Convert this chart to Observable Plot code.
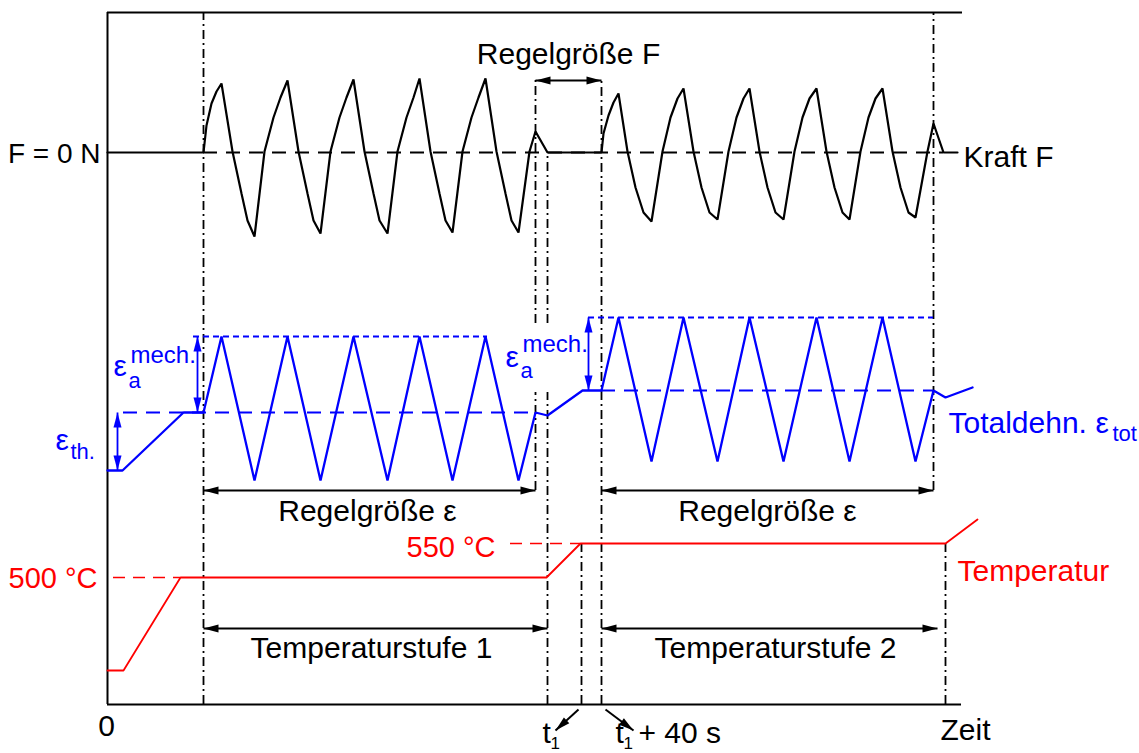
<!DOCTYPE html>
<html>
<head>
<meta charset="utf-8">
<script src="https://cdn.jsdelivr.net/npm/d3@7"></script>
<script src="https://cdn.jsdelivr.net/npm/@observablehq/plot@0.6"></script>
<style>
  html, body { margin: 0; padding: 0; background: #fff; }
  #chart { width: 1139px; height: 753px; }
</style>
</head>
<body>
<div id="chart"></div>
<script>
// ---- Data (t = Zeit, v = schematic level, both) ----
// Kraft F (black)
const force = [
  [0,552],[96,552],[99,579],[104,601],[109,613],[114,621],
  [125,553],[134,511],[140,484],[147,468],
  [157,553],[166,587],[173,607],[180,624],
  [191,553],[200,511],[206,484],[213,471],
  [223,553],[232,587],[239,607],[246,625],
  [257,553],[266,511],[272,484],[280,471],
  [290,553],[299,587],[306,607],[312,626],
  [323,553],[332,511],[338,484],[345,472],
  [355,553],[364,587],[371,607],[378,626],
  [389,553],[398,511],[404,484],[411,472],
  [422,553],[428,573],[440,552],[494,552],
  [496,571],[501,589],[506,602],[511,611],
  [520,553],[528,517],[536,492],[544,483],
  [555,553],[563,587],[570,606],[576,616],
  [586,553],[594,517],[602,492],[610,485],
  [621,553],[629,587],[636,606],[642,616],
  [652,553],[660,517],[668,492],[676,485],
  [687,553],[695,587],[702,606],[709,616],
  [719,553],[727,517],[735,492],[742,485],
  [753,553],[761,587],[768,606],[775,616],
  [785,553],[793,517],[801,492],[808,487],
  [820,553],[826,581],[836,552],[850,552]
];
// Totaldehnung (blue)
const strain = [
  [0,234],[15,234],[76,292],[96,292],[114,368],[147,224],[180,368],[213,224],
  [246,368],[280,224],[312,368],[345,224],[378,368],[411,224],[428,292],[440,289],
  [475,314],[494,314],[511,387],[544,243],[576,387],[610,243],[642,387],[676,243],
  [709,387],[742,243],[775,387],[808,243],[826,314],[838,307],[865,317]
];
// Temperatur (red)
const temperature = [[0,34],[16,34],[73,127],[439,127],[473,161],[838,161],[870,185]];

// reference levels
const forceZero = [{t1: 96, t2: 836, v: 552}];
const strainMean = [{t1: 16, t2: 428, v: 292}, {t1: 494, t2: 826, v: 314}];
const strainUpper = [{t1: 86, t2: 380, v: 368}, {t1: 481, t2: 826, v: 387}];
const tempSet = [{t1: 6, t2: 73, v: 127}, {t1: 403, t2: 473, v: 161}];

// phase boundaries (dash-dot)
const boundaries = [
  {t: 96, v1: 0, v2: 692},
  {t: 428, v1: 381, v2: 624}, {t: 428, v1: 214, v2: 312},
  {t: 440, v1: 381, v2: 552}, {t: 440, v1: 0, v2: 312},
  {t: 474, v1: 0, v2: 161},
  {t: 494, v1: 0, v2: 624},
  {t: 826, v1: 214, v2: 692},
  {t: 838, v1: 0, v2: 161}
];

// arrows
const blueArrows = [
  {t1: 10, v1: 292, t2: 10, v2: 234, both: true},
  {t1: 90, v1: 292, t2: 90, v2: 368, both: true},
  {t1: 481, v1: 314, t2: 481, v2: 387, both: true}
];
const blackArrows = [
  {t1: 428, v1: 624, t2: 494, v2: 624, both: true},
  {t1: 96, v1: 214, t2: 428, v2: 214, both: true},
  {t1: 494, v1: 214, t2: 826, v2: 214, both: true},
  {t1: 96, v1: 76, t2: 440, v2: 76, both: true},
  {t1: 494, v1: 76, t2: 830, v2: 76, both: true},
  {t1: 471, v1: -5, t2: 448, v2: -26, both: false},
  {t1: 498, v1: -5, t2: 526, v2: -26, both: false}
];

// labels
const blackLabelsEnd = [{t: -7, v: 542, text: "F = 0 N"}];
const blackLabelsStart = [
  {t: 856, v: 538, text: "Kraft F"},
  {t: 833, v: -35, text: "Zeit"}
];
const blackLabelsMid = [
  {t: 461, v: 641, text: "Regelgröße F"},
  {t: 260, v: 184, text: "Regelgröße ε"},
  {t: 660, v: 184, text: "Regelgröße ε"},
  {t: 264, v: 47, text: "Temperaturstufe 1"},
  {t: 668, v: 47, text: "Temperaturstufe 2"},
  {t: -1, v: -31, text: "0"}
];
const timeLabels = [
  {t: 435, v: -38, text: "t"},
  {t: 508, v: -38, text: "t"},
  {t: 531, v: -38, text: "+ 40 s"}
];
const timeSubs = [{t: 443, v: -44, text: "1"}, {t: 516, v: -44, text: "1"}];
const redLabelsEnd = [{t: -10, v: 117, text: "500 °C"}, {t: 388, v: 148, text: "550 °C"}];
const redLabelsStart = [{t: 850, v: 124, text: "Temperatur"}];
const blueLabels = [{t: 841, v: 272, text: "Totaldehn."}];
const blueEps = [
  {t: -52, v: 255, text: "ε"}, {t: 6, v: 329, text: "ε"},
  {t: 398, v: 338, text: "ε"}, {t: 988, v: 272, text: "ε"}
];
const blueSubs = [
  {t: -37, v: 246, text: "th."}, {t: 21, v: 317, text: "a"},
  {t: 413, v: 327, text: "a"}, {t: 1005, v: 264, text: "tot"}
];
const blueSups = [{t: 23, v: 342, text: "mech."}, {t: 415, v: 353, text: "mech."}];

// ---- helpers ----
const arrowHead = {
  draw(ctx) {
    ctx.moveTo(0, 0);
    ctx.lineTo(-4, 15);
    ctx.lineTo(4, 15);
    ctx.closePath();
  }
};
function headsOf(arrows) {
  const out = [];
  for (const a of arrows) {
    out.push({t: a.t2, v: a.v2, angle: Math.atan2(a.t2 - a.t1, a.v2 - a.v1) * 180 / Math.PI});
    if (a.both) out.push({t: a.t1, v: a.v1, angle: Math.atan2(a.t1 - a.t2, a.v1 - a.v2) * 180 / Math.PI});
  }
  return out;
}
const pts = (arr) => arr.map(([t, v]) => ({t, v}));

const BLACK = "#000", BLUE = "#0000ff", RED = "#ff0000";
const FONT = 30;

const plot = Plot.plot({
  width: 1139,
  height: 753,
  x: {type: "linear", domain: [0, 1032], range: [107, 1139], axis: null},
  y: {type: "linear", domain: [0, 704], range: [704, 0], axis: null},
  style: {fontFamily: "'Liberation Sans', Arial, Helvetica, sans-serif", background: "white", overflow: "visible"},
  marks: [
    // frame
    Plot.ruleX([0], {x: d => d, y1: 0, y2: 692, stroke: BLACK, strokeWidth: 2}),
    Plot.ruleY([0], {y: d => d, x1: 0, x2: 854, stroke: BLACK, strokeWidth: 2}),
    Plot.ruleY([692], {y: d => d, x1: 0, x2: 855, stroke: BLACK, strokeWidth: 2}),
    // phase boundaries
    Plot.ruleX(boundaries, {x: "t", y1: "v1", y2: "v2", stroke: BLACK, strokeWidth: 1.8, strokeDasharray: "9,4,2,4"}),
    // reference levels
    Plot.ruleY(forceZero, {y: "v", x1: "t1", x2: "t2", stroke: BLACK, strokeWidth: 1.8, strokeDasharray: "14,9"}),
    Plot.ruleY(strainMean, {y: "v", x1: "t1", x2: "t2", stroke: BLUE, strokeWidth: 1.8, strokeDasharray: "14,9"}),
    Plot.ruleY(strainUpper, {y: "v", x1: "t1", x2: "t2", stroke: BLUE, strokeWidth: 1.8, strokeDasharray: "6,4"}),
    Plot.ruleY(tempSet, {y: "v", x1: "t1", x2: "t2", stroke: RED, strokeWidth: 1.6, strokeDasharray: "12,8"}),
    // curves
    Plot.line(pts(force), {x: "t", y: "v", stroke: BLACK, strokeWidth: 2.2, strokeLinejoin: "miter"}),
    Plot.line(pts(strain), {x: "t", y: "v", stroke: BLUE, strokeWidth: 2.3, strokeLinejoin: "miter"}),
    Plot.line(pts(temperature), {x: "t", y: "v", stroke: RED, strokeWidth: 1.8}),
    // arrows
    Plot.link(blueArrows, {x1: "t1", y1: "v1", x2: "t2", y2: "v2", stroke: BLUE, strokeWidth: 1.8}),
    Plot.dot(headsOf(blueArrows), {x: "t", y: "v", rotate: "angle", symbol: arrowHead, fill: BLUE, stroke: "none", r: 5}),
    Plot.link(blackArrows, {x1: "t1", y1: "v1", x2: "t2", y2: "v2", stroke: BLACK, strokeWidth: 2}),
    Plot.dot(headsOf(blackArrows), {x: "t", y: "v", rotate: "angle", symbol: arrowHead, fill: BLACK, stroke: "none", r: 5}),
    // labels
    Plot.text(blackLabelsEnd, {x: "t", y: "v", text: "text", textAnchor: "end", lineAnchor: "bottom", fontSize: 28, fill: BLACK}),
    Plot.text(blackLabelsStart, {x: "t", y: "v", text: "text", textAnchor: "start", lineAnchor: "bottom", fontSize: FONT, fill: BLACK}),
    Plot.text(blackLabelsMid, {x: "t", y: "v", text: "text", textAnchor: "middle", lineAnchor: "bottom", fontSize: FONT, fill: BLACK}),
    Plot.text(timeLabels, {x: "t", y: "v", text: "text", textAnchor: "start", lineAnchor: "bottom", fontSize: FONT, fill: BLACK}),
    Plot.text(timeSubs, {x: "t", y: "v", text: "text", textAnchor: "start", lineAnchor: "bottom", fontSize: 17, fill: BLACK}),
    Plot.text(redLabelsEnd, {x: "t", y: "v", text: "text", textAnchor: "end", lineAnchor: "bottom", fontSize: 29, fill: RED}),
    Plot.text(redLabelsStart, {x: "t", y: "v", text: "text", textAnchor: "start", lineAnchor: "bottom", fontSize: FONT, fill: RED}),
    Plot.text(blueLabels, {x: "t", y: "v", text: "text", textAnchor: "start", lineAnchor: "bottom", fontSize: FONT, fill: BLUE}),
    Plot.text(blueEps, {x: "t", y: "v", text: "text", textAnchor: "start", lineAnchor: "bottom", fontSize: 30, fill: BLUE}),
    Plot.text(blueSubs, {x: "t", y: "v", text: "text", textAnchor: "start", lineAnchor: "bottom", fontSize: 22, fill: BLUE}),
    Plot.text(blueSups, {x: "t", y: "v", text: "text", textAnchor: "start", lineAnchor: "bottom", fontSize: 24, fill: BLUE})
  ]
});
document.getElementById("chart").appendChild(plot);
</script>
</body>
</html>
